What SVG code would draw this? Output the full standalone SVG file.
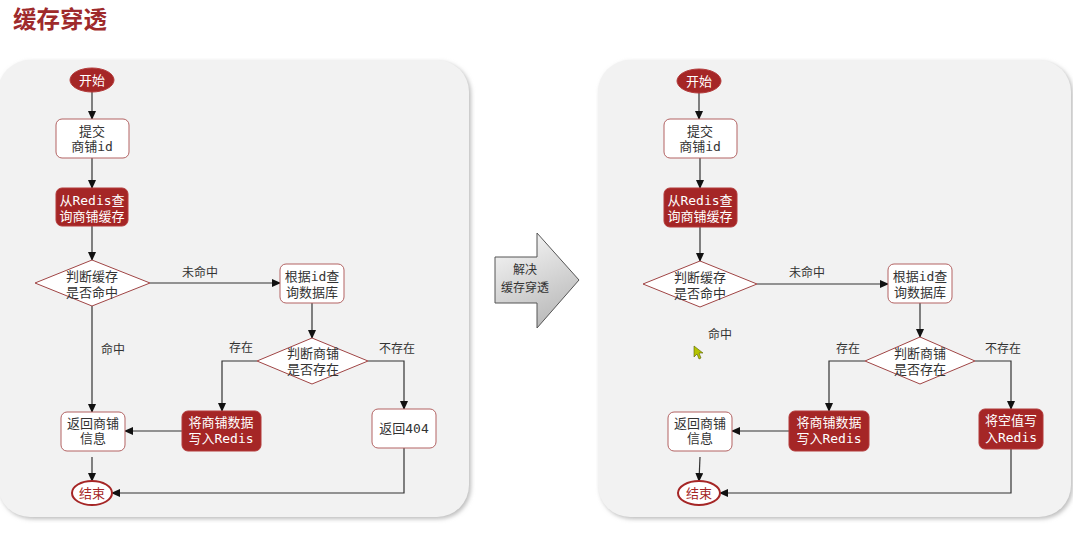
<svg xmlns="http://www.w3.org/2000/svg" width="1073" height="542" viewBox="0 0 1073 542">
<defs>
<style>
.t{font-family:"DejaVu Sans Mono","Noto Sans CJK SC",monospace;font-size:13px;fill:#333;text-anchor:middle}
.w{fill:#fff}
.lbl{font-family:"Noto Sans CJK SC","DejaVu Sans",sans-serif;font-size:12px;fill:#333;text-anchor:middle}
.box{fill:#fff;stroke:#b36363;stroke-width:1}
.red{fill:#a52626;stroke:#b33a3a;stroke-width:1}
.dia{fill:#fff;stroke:#a04545;stroke-width:1}
.panel{fill:#f2f2f2}
.conn path{fill:none;stroke:#333;stroke-width:1.2;marker-end:url(#ah)}
</style>
<marker id="ah" markerWidth="9" markerHeight="8" refX="8" refY="4" orient="auto" markerUnits="userSpaceOnUse">
<path d="M0,0 L9,4 L0,8 Z" fill="#111"/>
</marker>
<linearGradient id="ag" x1="0" y1="0" x2="0.4" y2="1">
<stop offset="0" stop-color="#fbfbfb"/>
<stop offset="1" stop-color="#bdbdbd"/>
</linearGradient>
<filter id="sh" x="-5%" y="-5%" width="110%" height="110%">
<feGaussianBlur stdDeviation="2"/>
</filter>
</defs>
<rect width="1073" height="542" fill="#fff"/>
<text x="13" y="28" font-family="Noto Sans CJK SC,sans-serif" font-size="23.5" font-weight="bold" fill="#9e2a2b">缓存穿透</text>

<g id="panel-left">
<rect x="0" y="62" width="471" height="457" rx="32" fill="#bdbdbd" filter="url(#sh)"/>
<rect x="-2" y="60" width="471" height="457" rx="32" class="panel"/>
</g>
<g id="panel-right">
<rect x="600" y="62" width="473" height="457" rx="32" fill="#bdbdbd" filter="url(#sh)"/>
<rect x="598" y="60" width="473" height="457" rx="32" class="panel"/>
</g>

<g id="solve-arrow">
<path d="M495,257 L537,257 L537,233 L579,280 L537,328 L537,303 L495,303 Z" fill="url(#ag)" stroke="#555" stroke-width="1"/>
<text class="lbl" x="525" y="274">解决</text>
<text class="lbl" x="525" y="292">缓存穿透</text>
</g>

<g class="conn" id="connectors-left">
<path d="M92,92 V119"/>
<path d="M92,158 V188"/>
<path d="M92,226 V260"/>
<path d="M150,283 H280"/>
<path d="M312,303 V338"/>
<path d="M257,361 H222 V411"/>
<path d="M368,361 H404 V409"/>
<path d="M92,306 V412"/>
<path d="M182,431 H125"/>
<path d="M404,448 V493 H112"/>
<path d="M92,457 V481"/>
</g>
<g class="conn" id="connectors-right">
<path d="M699,93 V119"/>
<path d="M700,158 V188"/>
<path d="M700,227 V261"/>
<path d="M757,284 H888"/>
<path d="M920,303 V337"/>
<path d="M865,361 H829 V411"/>
<path d="M975,361 H1011 V409"/>
<path d="M789,431 H732"/>
<path d="M1011,449 V493 H720"/>
<path d="M700,457 L699,481"/>
</g>

<g id="labels-left">
<text class="lbl" x="200" y="277">未命中</text>
<text class="lbl" x="113" y="354">命中</text>
<text class="lbl" x="241" y="352">存在</text>
<text class="lbl" x="397" y="353">不存在</text>
</g>
<g id="labels-right">
<text class="lbl" x="807" y="277">未命中</text>
<text class="lbl" x="720" y="339">命中</text>
<text class="lbl" x="848" y="353">存在</text>
<text class="lbl" x="1003" y="353">不存在</text>
</g>

<g id="L-start"><ellipse cx="92" cy="80" rx="22" ry="12" class="red"/><text class="t w" x="92" y="85">开始</text></g>
<g id="L-submit"><rect x="56" y="119" width="73" height="39" rx="6" class="box"/><text class="t" x="92" y="136">提交</text><text class="t" x="92" y="151">商铺id</text></g>
<g id="L-query-redis"><rect x="56" y="188" width="72" height="38" rx="6" class="red"/><text class="t w" x="92" y="205">从Redis查</text><text class="t w" x="92" y="221">询商铺缓存</text></g>
<g id="L-hit"><polygon points="92,260 150,283 92,306 35,283" class="dia"/><text class="t" x="92" y="281">判断缓存</text><text class="t" x="92" y="297">是否命中</text></g>
<g id="L-query-db"><rect x="280" y="264" width="64" height="39" rx="6" class="box"/><text class="t" x="312" y="281">根据id查</text><text class="t" x="312" y="297">询数据库</text></g>
<g id="L-exists"><polygon points="312,338 368,361 312,384 257,361" class="dia"/><text class="t" x="313" y="358">判断商铺</text><text class="t" x="313" y="374">是否存在</text></g>
<g id="L-write"><rect x="182" y="411" width="79" height="40" rx="6" class="red"/><text class="t w" x="221" y="427">将商铺数据</text><text class="t w" x="221" y="443">写入Redis</text></g>
<g id="L-404"><rect x="372" y="409" width="64" height="39" rx="6" class="box"/><text class="t" x="404" y="433">返回404</text></g>
<g id="L-return"><rect x="61" y="412" width="64" height="39" rx="6" class="box"/><text class="t" x="93" y="428">返回商铺</text><text class="t" x="93" y="443">信息</text></g>
<g id="L-end"><ellipse cx="92" cy="493" rx="20" ry="12" fill="#fff" stroke="#a52626" stroke-width="2"/><text class="t" x="92" y="498" style="fill:#a52626">结束</text></g>

<g id="R-start"><ellipse cx="699" cy="81" rx="22" ry="12" class="red"/><text class="t w" x="699" y="86">开始</text></g>
<g id="R-submit"><rect x="664" y="119" width="73" height="39" rx="6" class="box"/><text class="t" x="700" y="136">提交</text><text class="t" x="700" y="151">商铺id</text></g>
<g id="R-query-redis"><rect x="664" y="188" width="73" height="39" rx="6" class="red"/><text class="t w" x="700" y="205">从Redis查</text><text class="t w" x="700" y="221">询商铺缓存</text></g>
<g id="R-hit"><polygon points="700,261 757,284 700,307 643,284" class="dia"/><text class="t" x="700" y="282">判断缓存</text><text class="t" x="700" y="298">是否命中</text></g>
<g id="R-query-db"><rect x="888" y="264" width="64" height="39" rx="6" class="box"/><text class="t" x="920" y="281">根据id查</text><text class="t" x="920" y="297">询数据库</text></g>
<g id="R-exists"><polygon points="920,337 975,361 920,384 865,361" class="dia"/><text class="t" x="920" y="358">判断商铺</text><text class="t" x="920" y="374">是否存在</text></g>
<g id="R-write"><rect x="789" y="411" width="80" height="40" rx="6" class="red"/><text class="t w" x="829" y="427">将商铺数据</text><text class="t w" x="829" y="443">写入Redis</text></g>
<g id="R-write-null"><rect x="979" y="409" width="64" height="40" rx="6" class="red"/><text class="t w" x="1011" y="425">将空值写</text><text class="t w" x="1011" y="442">入Redis</text></g>
<g id="R-return"><rect x="668" y="412" width="64" height="39" rx="6" class="box"/><text class="t" x="700" y="428">返回商铺</text><text class="t" x="700" y="443">信息</text></g>
<g id="R-end"><ellipse cx="699" cy="493" rx="21" ry="12" fill="#fff" stroke="#a52626" stroke-width="2"/><text class="t" x="699" y="498" style="fill:#a52626">结束</text></g>

<g id="cursor"><path d="M694,346 L694,357 L697,354 L699,359 L701,358 L699,353 L703,353 Z" fill="#b5c400" stroke="#556000" stroke-width="0.6"/></g>
</svg>
